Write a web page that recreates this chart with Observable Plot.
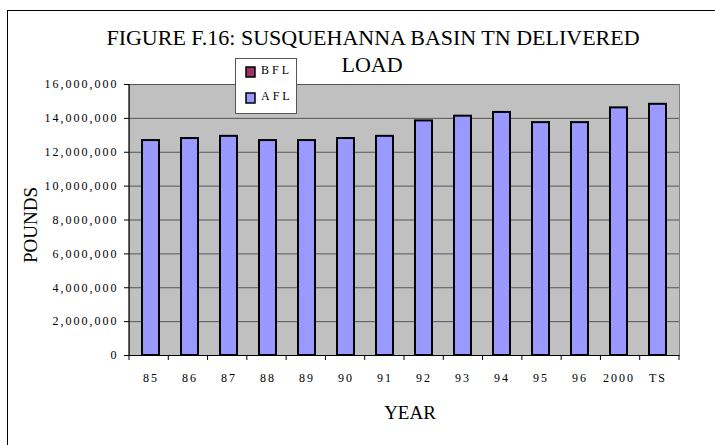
<!DOCTYPE html>
<html>
<head>
<meta charset="utf-8">
<script src="https://cdn.jsdelivr.net/npm/d3@7"></script>
<script src="https://cdn.jsdelivr.net/npm/@observablehq/plot@0.6"></script>
<style>
  html, body { margin: 0; padding: 0; background: #fff; }
  #wrap { position: relative; width: 715px; height: 445px; overflow: hidden; }
  #border { position: absolute; left: 7px; top: 10px; width: 900px; height: 600px;
            border-left: 1px solid #000; border-top: 1px solid #000; pointer-events: none; }
  #chart svg { position: absolute; left: 0; top: 0; }
  #chart svg g[aria-label="y-axis tick label"] text { letter-spacing: 2px; }
  #chart svg g[aria-label="x-axis tick label"] text { letter-spacing: 2px; }
</style>
</head>
<body>
<div id="wrap"><div id="border"></div><div id="chart"></div></div>
<script>
// ---- data ----
const years = ["85","86","87","88","89","90","91","92","93","94","95","96","2000","TS"];
const aflLoad = [12690000, 12810000, 12940000, 12690000, 12690000, 12810000, 12940000,
                 13850000, 14130000, 14350000, 13750000, 13750000, 14620000, 14830000];
const yTicks = [0, 2000000, 4000000, 6000000, 8000000, 10000000, 12000000, 14000000, 16000000];
const seriesNames = ["BFL", "AFL"];
const seriesColors = ["#993366", "#9999FF"];
const titleLines = ["FIGURE F.16: SUSQUEHANNA BASIN TN DELIVERED", "LOAD"];
const yLabel = "POUNDS";
const xLabel = "YEAR";

const data = years.map((y, i) => ({year: y, afl: aflLoad[i]}));
const font = "'Liberation Serif', 'Times New Roman', serif";

const chart = Plot.plot({
  width: 715, height: 445,
  marginLeft: 129, marginRight: 36, marginTop: 84, marginBottom: 90,
  style: {fontFamily: font, fontSize: "12px", background: "transparent", color: "#000", overflow: "visible"},
  x: {domain: years, paddingInner: 0.57, paddingOuter: 0.285, label: null},
  y: {domain: [0, 16000000], label: null},
  marks: [
    Plot.frame({fill: "#C0C0C0", stroke: "#808080"}),
    Plot.ruleY(yTicks, {stroke: "#555", strokeWidth: 1}),
    Plot.barY(data, {x: "year", y: "afl", fill: seriesColors[1], stroke: "#000", strokeWidth: 2}),
    Plot.axisY({ticks: yTicks, tickFormat: d3.format(","), tickSize: 5, tickPadding: 6, label: null, stroke: "#000", fill: "#000"}),
    Plot.axisX({tickSize: 0, tickPadding: 18, label: null, fill: "#000"}),
    Plot.ruleY([0], {stroke: "#000", strokeWidth: 1})
  ]
});
document.getElementById("chart").appendChild(chart);

// ---- decorations derived from the chart's scales ----
const xs = chart.scale("x"), ys = chart.scale("y");
const svg = d3.select(chart);
const x0 = xs.range[0], x1 = xs.range[1];
const yBottom = ys.apply(0), yTop = ys.apply(16000000);

// y axis line
svg.append("line").attr("x1", x0).attr("x2", x0).attr("y1", yTop).attr("y2", yBottom)
  .attr("stroke", "#000").attr("stroke-width", 1.2);
// x ticks at category boundaries
const step = (x1 - x0) / years.length;
const bounds = d3.range(years.length + 1).map(i => x0 + i * step);
svg.append("g").selectAll("line").data(bounds).join("line")
  .attr("x1", d => d).attr("x2", d => d).attr("y1", yBottom).attr("y2", yBottom + 5)
  .attr("stroke", "#000");

// title
const tg = svg.append("g").attr("font-family", font).attr("font-size", 22).attr("text-anchor", "middle").attr("fill", "#000");
tg.append("text").attr("x", 373).attr("y", 45).text(titleLines[0]);
tg.append("text").attr("x", 372).attr("y", 72).text(titleLines[1]);

// axis titles
svg.append("text").attr("font-family", font).attr("font-size", 19).attr("text-anchor", "middle")
  .attr("transform", "translate(37,225) rotate(-90)").text(yLabel);
svg.append("text").attr("font-family", font).attr("font-size", 19).attr("text-anchor", "middle")
  .attr("x", 410).attr("y", 419).text(xLabel);

// legend
const lg = svg.append("g");
lg.append("rect").attr("x", 235.5).attr("y", 58.5).attr("width", 61).attr("height", 55)
  .attr("fill", "#fff").attr("stroke", "#555");
seriesNames.forEach((name, i) => {
  const yy = 67 + i * 26;
  lg.append("rect").attr("x", 246).attr("y", yy).attr("width", 9).attr("height", 10)
    .attr("fill", seriesColors[i]).attr("stroke", "#000").attr("stroke-width", 1.5);
  lg.append("text").attr("x", 261).attr("y", yy + 7).attr("font-family", font).attr("font-size", 12)
    .attr("text-anchor", "start").attr("letter-spacing", "3px").attr("fill", "#000").text(name);
});
</script>
</body>
</html>
